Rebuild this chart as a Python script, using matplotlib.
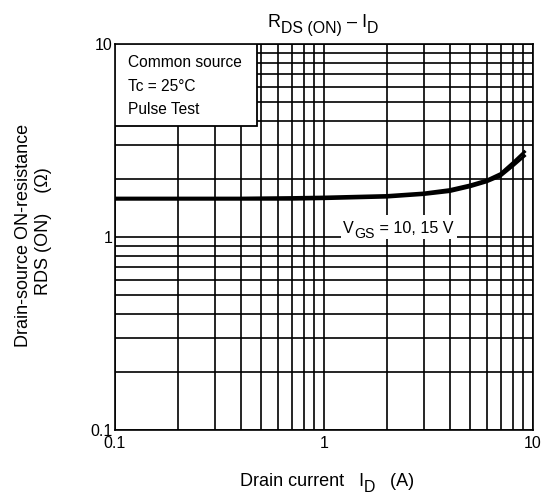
import matplotlib
matplotlib.use('Agg')
import matplotlib.pyplot as plt
from matplotlib.patches import Rectangle

plt.rcParams['font.family'] = ['Liberation Sans', 'DejaVu Sans']

# drain current (A) and on-resistance (ohm)
id_a = [0.1, 0.2, 0.4, 0.7, 1.0, 2.0, 3.0, 4.0, 5.0, 6.0, 7.0, 8.0, 9.1]
rds_10v = [1.59, 1.59, 1.59, 1.60, 1.61, 1.64, 1.69, 1.76, 1.86, 1.97, 2.13, 2.42, 2.76]
rds_15v = [1.57, 1.57, 1.57, 1.57, 1.58, 1.61, 1.66, 1.72, 1.82, 1.93, 2.07, 2.33, 2.63]

grid_vals = [0.1, 0.2, 0.3, 0.4, 0.5, 0.6, 0.7, 0.8, 0.9,
             1, 2, 3, 4, 5, 6, 7, 8, 9, 10]


def sub_text(fig, x, y, parts, size, rotation=0):
    # text with big subscripts, centred on (x, y) in figure fraction
    r = fig.canvas.get_renderer()
    sizes = [size * 0.88 if sub else size for s, sub in parts]
    widths = []
    for (s, sub), fs in zip(parts, sizes):
        t = fig.text(0, 0, s, fontsize=fs)
        widths.append(t.get_window_extent(r).width)
        t.remove()
    total = sum(widths)
    px, py = fig.transFigure.transform((x, y))
    drop = size * 0.3 * fig.dpi / 72.0
    pos = -total / 2.0
    for (s, sub), fs, w in zip(parts, sizes, widths):
        d = drop if sub else 0
        if rotation == 90:
            tx, ty = px + d + size * 0.35 * fig.dpi / 72.0, py + pos
        else:
            tx, ty = px + pos, py - d - size * 0.35 * fig.dpi / 72.0
        fx, fy = fig.transFigure.inverted().transform((tx, ty))
        fig.text(fx, fy, s, fontsize=fs, rotation=rotation, rotation_mode='anchor',
                 ha='left', va='baseline', zorder=6)
        pos += w


fig = plt.figure(figsize=(5.5, 4.99), dpi=100)
ax = fig.add_axes([0.209, 0.138, 0.760, 0.774])
ax.set_xscale('log')
ax.set_yscale('log')
ax.set_xlim(0.1, 10)
ax.set_ylim(0.1, 10)

for v in grid_vals:
    ax.axvline(v, color='black', lw=1.2, zorder=1)
    ax.axhline(v, color='black', lw=1.2, zorder=1)

ax.plot(id_a, rds_10v, color='black', lw=2.2, zorder=3)
ax.plot(id_a, rds_15v, color='black', lw=2.2, zorder=3)

ax.set_xticks([0.1, 1, 10])
ax.set_xticklabels(['0.1', '1', '10'])
ax.set_yticks([0.1, 1, 10])
ax.set_yticklabels(['0.1', '1', '10'])
ax.minorticks_off()
ax.tick_params(length=0, labelsize=11.5)
ax.tick_params(axis='y', pad=2)
ax.tick_params(axis='x', pad=4)
for s in ax.spines.values():
    s.set_linewidth(1.2)

# condition box
ax.add_patch(Rectangle((0, 0.788), 0.34, 0.212, transform=ax.transAxes,
                       facecolor='white', edgecolor='black', lw=1.3, zorder=4))
ax.text(0.032, 0.951, 'Common source', transform=ax.transAxes, fontsize=11.2, va='center', zorder=5)
ax.text(0.032, 0.891, 'Tc = 25°C', transform=ax.transAxes, fontsize=11.2, va='center', zorder=5)
ax.text(0.032, 0.829, 'Pulse Test', transform=ax.transAxes, fontsize=11.2, va='center', zorder=5)

# white patch behind the curve label
ax.add_patch(Rectangle((0.540, 0.495), 0.278, 0.062, transform=ax.transAxes,
                       facecolor='white', edgecolor='none', zorder=4))
fig.canvas.draw()
sub_text(fig, 0.724, 0.545, [('V', False), ('GS', True), (' = 10, 15 V', False)], 11.6)
sub_text(fig, 0.587, 0.958, [('R', False), ('DS (ON)', True), (' – I', False), ('D', True)], 13)
sub_text(fig, 0.595, 0.038, [('Drain current   I', False), ('D', True), ('   (A)', False)], 13)
fig.text(0.042, 0.529, 'Drain-source ON-resistance', fontsize=13, rotation=90, ha='center', va='center')
fig.text(0.080, 0.537, 'RDS (ON)    (Ω)', fontsize=13, rotation=90, ha='center', va='center')

fig.savefig('out.png', dpi=100)
